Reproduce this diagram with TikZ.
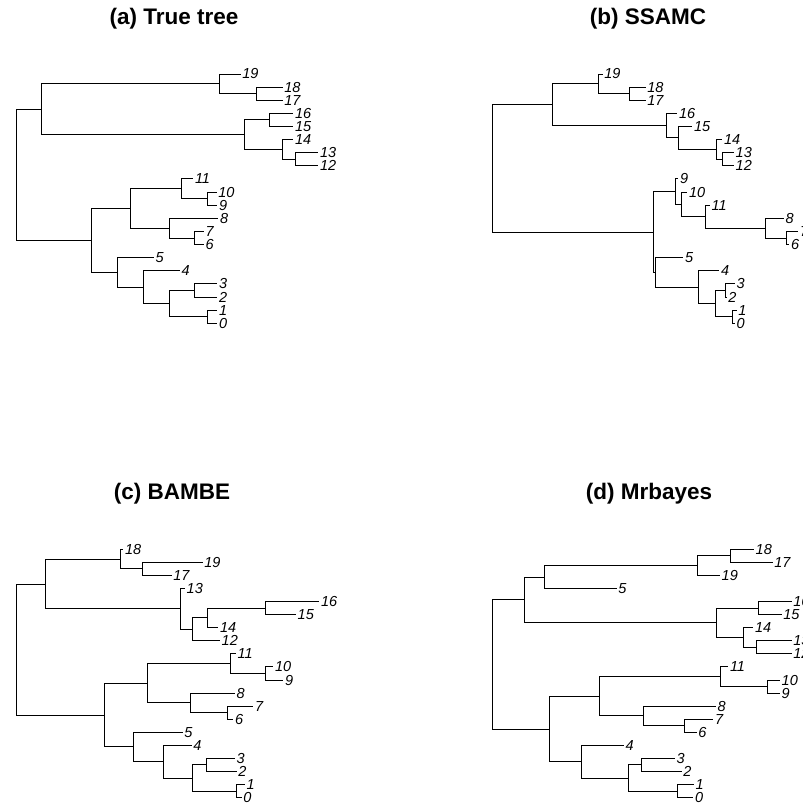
\documentclass[tikz,border=0pt]{standalone}
\usepackage{fontspec}
\setmainfont{Liberation Sans}
\tikzset{
  branch/.style={line width=1pt, black},
  lbl/.style={anchor=west, inner sep=0pt, xshift=1.5pt,
    font=\itshape\fontsize{14.5}{17}\selectfont},
  ttl/.style={inner sep=0pt, font=\bfseries\fontsize{22.5}{27}\selectfont}
}
% vertical placement of the tips of the current tree
\newcommand\ytop{74}
\newcommand\ystep{13.12}
% \leaf{name}{x of tip end}{row}{label}
\newcommand\leaf[4]{%
  \coordinate (#1) at (#2,{\ytop+\ystep*#3});
  \node[lbl] (#1l) at (#1) {#4};}
% \clade{name}{x}{child}{child}: node sits midway between its children
\newcommand\clade[4]{%
  \path (#3) -- (#4) coordinate[midway] (#1m);
  \coordinate (#1) at (#2,0 |- #1m);
  \draw[branch] (#1) |- (#3) (#1) |- (#4);}

\begin{document}
\begin{tikzpicture}[x=1pt,y=-1pt]
\useasboundingbox (0,0) rectangle (803,804);
\fill[white] (0,0) rectangle (803,804);
\clip (0,0) rectangle (803,804);

% ---------------- (a) True tree ----------------
\node[ttl] (ta) at (174,19) {(a) True tree};
\renewcommand\ytop{74}\renewcommand\ystep{13.12}
\leaf{a19}{240.7}{0}{19}
\leaf{a18}{282.7}{1}{18}
\leaf{a17}{282.7}{2}{17}
\leaf{a16}{293.3}{3}{16}
\leaf{a15}{293.3}{4}{15}
\leaf{a14}{293.3}{5}{14}
\leaf{a13}{318.3}{6}{13}
\leaf{a12}{318.3}{7}{12}
\leaf{a11}{193.3}{8}{11}
\leaf{a10}{216.7}{9}{10}
\leaf{a9}{217.3}{10}{9}
\leaf{a8}{218.3}{11}{8}
\leaf{a7}{204}{12}{7}
\leaf{a6}{204}{13}{6}
\leaf{a5}{154}{14}{5}
\leaf{a4}{180}{15}{4}
\leaf{a3}{217.3}{16}{3}
\leaf{a2}{217.3}{17}{2}
\leaf{a1}{217.3}{18}{1}
\leaf{a0}{217.3}{19}{0}
\clade{aP}{256.7}{a18}{a17}
\clade{aQ}{219}{a19}{aP}
\clade{aR}{269.3}{a16}{a15}
\clade{aS}{295}{a13}{a12}
\clade{aT}{282.3}{a14}{aS}
\clade{aU}{244.3}{aR}{aT}
\clade{aV}{41.7}{aQ}{aU}
\clade{aW}{207.3}{a10}{a9}
\clade{aX}{181}{a11}{aW}
\clade{aY}{194.3}{a7}{a6}
\clade{aZ}{169}{a8}{aY}
\clade{aAA}{130}{aX}{aZ}
\clade{aAB}{194}{a3}{a2}
\clade{aAC}{207.3}{a1}{a0}
\clade{aAD}{169}{aAB}{aAC}
\clade{aAE}{143.3}{a4}{aAD}
\clade{aAF}{117.3}{a5}{aAE}
\clade{aAG}{91.7}{aAA}{aAF}
\clade{aRoot}{16.7}{aV}{aAG}

% ---------------- (b) SSAMC ----------------
\node[ttl] (tb) at (648,19) {(b) SSAMC};
\leaf{b19}{602.7}{0}{19}
\leaf{b18}{645.7}{1}{18}
\leaf{b17}{645.7}{2}{17}
\leaf{b16}{677.3}{3}{16}
\leaf{b15}{692.3}{4}{15}
\leaf{b14}{722.3}{5}{14}
\leaf{b13}{734}{6}{13}
\leaf{b12}{734}{7}{12}
\leaf{b9}{678.3}{8}{9}
\leaf{b10}{687.3}{9}{10}
\leaf{b11}{710}{10}{11}
\leaf{b8}{784}{11}{8}
\leaf{b7}{798.3}{12}{7}
\leaf{b6}{789.3}{13}{6}
\leaf{b5}{683.3}{14}{5}
\leaf{b4}{719.3}{15}{4}
\leaf{b3}{735}{16}{3}
\leaf{b2}{726.7}{17}{2}
\leaf{b1}{736.7}{18}{1}
\leaf{b0}{735}{19}{0}
\clade{bP}{629.7}{b18}{b17}
\clade{bQ}{598.3}{b19}{bP}
\clade{bS}{722.3}{b13}{b12}
\clade{bT}{716}{b14}{bS}
\clade{bU}{678.3}{b15}{bT}
\clade{bV}{666.7}{b16}{bU}
\clade{bW}{552.7}{bQ}{bV}
\clade{bX}{786}{b7}{b6}
\clade{bY}{765}{b8}{bX}
\clade{bZ}{705}{b11}{bY}
\clade{bAA}{681.7}{b10}{bZ}
\clade{bAB}{675}{b9}{bAA}
\clade{bAC}{725}{b3}{b2}
\clade{bAD}{732.7}{b1}{b0}
\clade{bAE}{715}{bAC}{bAD}
\clade{bAF}{698.3}{b4}{bAE}
\clade{bAG}{655.7}{b5}{bAF}
\clade{bAH}{653.3}{bAB}{bAG}
\clade{bRoot}{492.3}{bW}{bAH}

% ---------------- (c) BAMBE ----------------
\node[ttl] (tc) at (172,494) {(c) BAMBE};
\renewcommand\ytop{549.3}\renewcommand\ystep{13.07}
\leaf{c18}{123.3}{0}{18}
\leaf{c19}{202.7}{1}{19}
\leaf{c17}{171.7}{2}{17}
\leaf{c13}{185}{3}{13}
\leaf{c16}{319.3}{4}{16}
\leaf{c15}{296}{5}{15}
\leaf{c14}{218.3}{6}{14}
\leaf{c12}{220}{7}{12}
\leaf{c11}{236}{8}{11}
\leaf{c10}{273.3}{9}{10}
\leaf{c9}{283.3}{10}{9}
\leaf{c8}{235}{11}{8}
\leaf{c7}{253.3}{12}{7}
\leaf{c6}{233.3}{13}{6}
\leaf{c5}{182.7}{14}{5}
\leaf{c4}{191.7}{15}{4}
\leaf{c3}{235}{16}{3}
\leaf{c2}{236.7}{17}{2}
\leaf{c1}{245}{18}{1}
\leaf{c0}{241.7}{19}{0}
\clade{cP}{142.7}{c19}{c17}
\clade{cQ}{120}{c18}{cP}
\clade{cR}{265.7}{c16}{c15}
\clade{cS}{207.7}{cR}{c14}
\clade{cT}{192.7}{cS}{c12}
\clade{cU}{180}{c13}{cT}
\clade{cV}{45}{cQ}{cU}
\clade{cW}{265.7}{c10}{c9}
\clade{cX}{230.7}{c11}{cW}
\clade{cY}{227.3}{c7}{c6}
\clade{cZ}{190}{c8}{cY}
\clade{cAA}{147.3}{cX}{cZ}
\clade{cAB}{206.7}{c3}{c2}
\clade{cAC}{236}{c1}{c0}
\clade{cAD}{192.7}{cAB}{cAC}
\clade{cAE}{163.3}{c4}{cAD}
\clade{cAF}{133.3}{c5}{cAE}
\clade{cAG}{104.3}{cAA}{cAF}
\clade{cRoot}{16.7}{cV}{cAG}

% ---------------- (d) Mrbayes ----------------
\node[ttl] (td) at (649,494) {(d) Mrbayes};
\leaf{d18}{754}{0}{18}
\leaf{d17}{772.7}{1}{17}
\leaf{d19}{720}{2}{19}
\leaf{d5}{616.7}{3}{5}
\leaf{d16}{791.7}{4}{16}
\leaf{d15}{781.7}{5}{15}
\leaf{d14}{753.3}{6}{14}
\leaf{d13}{791.7}{7}{13}
\leaf{d12}{791.7}{8}{12}
\leaf{d11}{728.3}{9}{11}
\leaf{d10}{780}{10}{10}
\leaf{d9}{780}{11}{9}
\leaf{d8}{716}{12}{8}
\leaf{d7}{713.3}{13}{7}
\leaf{d6}{696.7}{14}{6}
\leaf{d4}{624}{15}{4}
\leaf{d3}{675}{16}{3}
\leaf{d2}{681.7}{17}{2}
\leaf{d1}{694}{18}{1}
\leaf{d0}{693.3}{19}{0}
\clade{dP}{730}{d18}{d17}
\clade{dQ}{697.3}{dP}{d19}
\clade{dR}{544}{dQ}{d5}
\clade{dS}{758.3}{d16}{d15}
\clade{dT}{756}{d13}{d12}
\clade{dU}{743.3}{d14}{dT}
\clade{dV}{716.7}{dS}{dU}
\clade{dW}{524.3}{dR}{dV}
\clade{dX}{767.3}{d10}{d9}
\clade{dY}{720.7}{d11}{dX}
\clade{dZ}{684.3}{d7}{d6}
\clade{dAA}{643.3}{d8}{dZ}
\clade{dAB}{599.3}{dY}{dAA}
\clade{dAC}{641}{d3}{d2}
\clade{dAD}{677.3}{d1}{d0}
\clade{dAE}{628.3}{dAC}{dAD}
\clade{dAF}{581}{d4}{dAE}
\clade{dAG}{549}{dAB}{dAF}
\clade{dRoot}{492.3}{dW}{dAG}
\end{tikzpicture}
\end{document}
